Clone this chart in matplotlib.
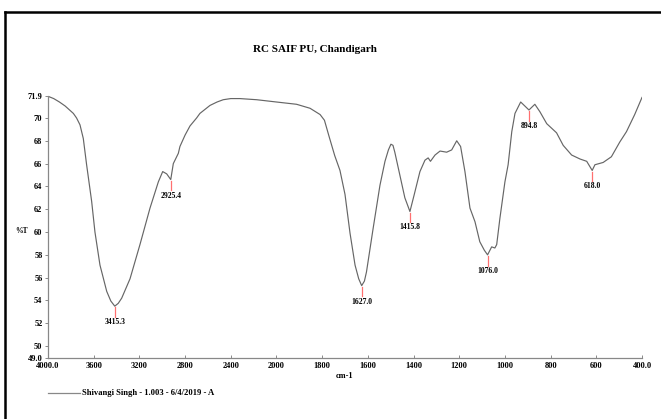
import numpy as np
import matplotlib
matplotlib.use('Agg')
import matplotlib.pyplot as plt
from matplotlib.lines import Line2D

# IR spectrum (wavenumber cm-1, %T)
wavenumber = [4000, 3950, 3900, 3850, 3778, 3750, 3720, 3691, 3662, 3618,
              3589, 3545, 3486, 3450, 3415.3, 3385, 3355, 3282, 3195, 3107,
              3034, 2996, 2961, 2925.4, 2903, 2859, 2845, 2800, 2757, 2699,
              2670, 2582, 2520, 2466, 2400, 2320, 2173, 2000, 1912, 1853,
              1809, 1790, 1770, 1745, 1722, 1700, 1678, 1656, 1640, 1627.0, 1615,
              1606, 1577, 1547, 1525, 1510, 1499, 1490, 1482, 1460, 1438,
              1415.8, 1398, 1372, 1350, 1336, 1326, 1306, 1284, 1255, 1233,
              1211, 1194, 1175, 1153, 1131, 1110, 1090, 1076.0, 1058, 1044,
              1036, 1022, 1000, 986, 970, 956, 931, 894.8, 869, 847,
              817, 774, 745, 708, 671, 642, 618.0, 606, 570, 534,
              497, 468, 432, 400]
transmittance = [71.9, 71.7, 71.4, 71.05, 70.4, 70.0, 69.4, 68.2, 65.9, 62.7,
                 60.0, 57.1, 54.8, 53.95, 53.5, 53.75, 54.2, 55.9, 58.9, 62.1,
                 64.4, 65.3, 65.1, 64.6, 66.0, 66.9, 67.5, 68.5, 69.3, 70.0,
                 70.4, 71.1, 71.4, 71.6, 71.7, 71.7, 71.6, 71.4, 71.2, 70.85,
                 70.3, 69.8, 68.4, 66.7, 65.4, 63.3, 59.9, 57.1, 55.9, 55.3, 55.7,
                 56.5, 60.3, 64.1, 66.2, 67.2, 67.7, 67.6, 67.0, 65.0, 63.0,
                 61.8, 63.2, 65.3, 66.3, 66.5, 66.2, 66.75, 67.1, 67.0, 67.2,
                 68.0, 67.5, 65.3, 62.1, 60.9, 59.15, 58.4, 58.0, 58.7, 58.6,
                 58.9, 61.2, 64.4, 65.9, 68.8, 70.4, 71.4, 70.7, 71.2, 70.55,
                 69.5, 68.7, 67.6, 66.75, 66.4, 66.2, 65.4, 65.9, 66.1, 66.6,
                 67.9, 68.8, 70.3, 71.8]

peak_pos = [3415.3, 2925.4, 1627.0, 1415.8, 1076.0, 894.8, 618.0]
peak_val = [53.5, 64.6, 55.3, 61.8, 58.0, 70.7, 65.4]

xticks = [4000, 3600, 3200, 2800, 2400, 2000, 1800, 1600, 1400, 1200, 1000, 800, 600, 400]
xtick_labels = ['4000.0', '3600', '3200', '2800', '2400', '2000', '1800', '1600',
                '1400', '1200', '1000', '800', '600', '400.0']
yticks = [49.0, 50, 52, 54, 56, 58, 60, 62, 64, 66, 68, 70, 71.9]
ytick_labels = ['49.0', '50', '52', '54', '56', '58', '60', '62', '64', '66', '68', '70', '71.9']

legend_text = 'Shivangi Singh - 1.003 - 6/4/2019 - A'


# scale halves above 2000 cm-1 (usual FTIR abscissa change)
def fwd(x):
    x = np.asarray(x, dtype=float)
    return np.where(x <= 2000, x, 2000 + (x - 2000) / 2)


def inv(u):
    u = np.asarray(u, dtype=float)
    return np.where(u <= 2000, u, 2000 + (u - 2000) * 2)


W, H = 661, 419
fig = plt.figure(figsize=(W / 100, H / 100), dpi=100)
ax = fig.add_axes([48 / W, 1 - 357.5 / H, (642 - 48) / W, (357.5 - 96.3) / H])

serif = dict(family='Liberation Serif', weight='bold')

ax.set_xscale('function', functions=(fwd, inv))
ax.plot(wavenumber, transmittance, color='#666666', lw=0.85)
ax.set_xlim(4000, 400)
ax.set_ylim(49.0, 71.9)

# peak picks
for p, v in zip(peak_pos, peak_val):
    ax.plot([p, p], [v - 0.1, v - 0.95], color='#ff7070', lw=0.9)
    ax.text(p, v - 1.05, f'{p:.1f}', ha='center', va='top', fontsize=5.5, **serif)

ax.set_xticks(xticks)
ax.set_xticklabels(xtick_labels, fontsize=6, **serif)
ax.set_yticks(yticks)
ax.set_yticklabels(ytick_labels, fontsize=6, **serif)
ax.minorticks_off()
ax.tick_params(axis='x', direction='in', length=2.5, width=0.6, color='#777777', pad=3)
ax.tick_params(axis='y', direction='out', length=2, width=0.6, color='#777777', pad=2)

for s in ['top', 'right']:
    ax.spines[s].set_visible(False)
for s in ['left', 'bottom']:
    ax.spines[s].set_color('#888888')
    ax.spines[s].set_linewidth(0.9)

fig.text(315 / W, 1 - 50 / H, 'RC SAIF PU, Chandigarh', fontsize=8, ha='center', va='center', **serif)
fig.text(15 / W, 1 - 231 / H, '%T', fontsize=5.5, va='center', ha='left', **serif)
fig.text(336 / W, 1 - 376 / H, 'cm-1', fontsize=6, va='center', ha='left', **serif)

# legend line + text
fig.add_artist(Line2D([48 / W, 80 / W], [1 - 393 / H] * 2, color='#888888', lw=0.9))
fig.text(82 / W, 1 - 393 / H, legend_text, fontsize=6.2, va='center', ha='left', **serif)

# outer frame (top and left edges)
fig.add_artist(Line2D([5 / W, 1], [1 - 12 / H] * 2, color='black', lw=1.8))
fig.add_artist(Line2D([5 / W, 5 / W], [0, 1 - 12 / H], color='black', lw=1.8))

fig.savefig('out.png', dpi=100)
